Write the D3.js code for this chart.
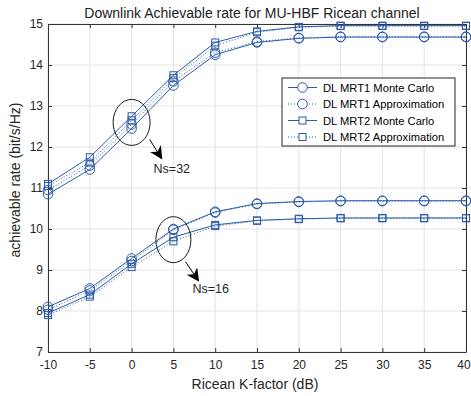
<!DOCTYPE html>
<html><head><meta charset="utf-8">
<script src="https://cdn.jsdelivr.net/npm/d3@7"></script>
<style>body{margin:0;background:#fff}svg{font-family:"Liberation Sans",Arial,sans-serif}</style>
</head><body><svg id="c" width="471" height="396"></svg>
<script>
const kFactor = [-10,-5,0,5,10,15,20,25,30,35,40];
// Ns = 32
const mrt1MC32  = [10.85,11.45,12.45,13.50,14.25,14.55,14.65,14.68,14.68,14.68,14.68];
const mrt1Ap32  = [10.95,11.55,12.55,13.60,14.30,14.57,14.66,14.69,14.69,14.69,14.69];
const mrt2MC32  = [11.10,11.75,12.75,13.75,14.55,14.82,14.93,14.96,14.96,14.96,14.96];
const mrt2Ap32  = [11.05,11.62,12.65,13.68,14.47,14.80,14.92,14.95,14.95,14.95,14.95];
// Ns = 16
const mrt1MC16  = [8.10,8.55,9.28,10.00,10.42,10.62,10.67,10.69,10.69,10.69,10.69];
const mrt1Ap16  = [8.03,8.50,9.22,9.98,10.40,10.61,10.66,10.68,10.68,10.68,10.68];
const mrt2MC16  = [7.95,8.40,9.15,9.80,10.10,10.21,10.25,10.27,10.27,10.27,10.27];
const mrt2Ap16  = [7.90,8.35,9.07,9.70,10.07,10.20,10.24,10.26,10.26,10.26,10.26];
const xTicks = [-10,-5,0,5,10,15,20,25,30,35,40];
const yTicks = [7,8,9,10,11,12,13,14,15];
const legendLabels = ["DL MRT1 Monte Carlo","DL MRT1 Approximation","DL MRT2 Monte Carlo","DL MRT2 Approximation"];

const series = [
  {v:mrt1MC32, m:"o", d:false},{v:mrt1Ap32, m:"o", d:true},
  {v:mrt2MC32, m:"s", d:false},{v:mrt2Ap32, m:"s", d:true},
  {v:mrt1MC16, m:"o", d:false},{v:mrt1Ap16, m:"o", d:true},
  {v:mrt2MC16, m:"s", d:false},{v:mrt2Ap16, m:"s", d:true}
];
const col = "#2a5ba8";
const svg = d3.select("#c");
const L=48, R=466, T=24, B=352;
const x = d3.scaleLinear().domain([-10,40]).range([L,R]);
const y = d3.scaleLinear().domain([7,15]).range([B,T]);

// grid
svg.append("g").selectAll("line").data(xTicks).join("line")
  .attr("x1",d=>x(d)).attr("x2",d=>x(d)).attr("y1",T).attr("y2",B)
  .attr("stroke","#e3e3e3").attr("stroke-width",1);
svg.append("g").selectAll("line").data(yTicks).join("line")
  .attr("y1",d=>y(d)).attr("y2",d=>y(d)).attr("x1",L).attr("x2",R)
  .attr("stroke","#e3e3e3").attr("stroke-width",1);

// axes
const axCol="#333";
const fmt = d=>String(d);
const gx = svg.append("g").attr("transform",`translate(0,${B})`)
  .call(d3.axisBottom(x).tickValues(xTicks).tickSizeInner(-4).tickSizeOuter(0).tickPadding(8).tickFormat(fmt));
const gxt = svg.append("g").attr("transform",`translate(0,${T})`)
  .call(d3.axisTop(x).tickValues(xTicks).tickSizeInner(-4).tickSizeOuter(0).tickFormat(""));
const gy = svg.append("g").attr("transform",`translate(${L},0)`)
  .call(d3.axisLeft(y).tickValues(yTicks).tickSizeInner(-4).tickSizeOuter(0).tickPadding(5).tickFormat(fmt));
const gyr = svg.append("g").attr("transform",`translate(${R},0)`)
  .call(d3.axisRight(y).tickValues(yTicks).tickSizeInner(-4).tickSizeOuter(0).tickFormat(""));
[gx,gxt,gy,gyr].forEach(g=>{
  g.select(".domain").attr("stroke",axCol);
  g.selectAll(".tick line").attr("stroke",axCol);
  g.selectAll("text").attr("fill","#262626").style("font-size","12px").style("font-family","'Liberation Sans',Arial,sans-serif");
});
// keep last x tick label inside the canvas
gx.selectAll(".tick text").filter(d=>d===40).attr("dx",-2.5);

// lines
const line = d3.line().x((d,i)=>x(kFactor[i])).y(d=>y(d));
series.forEach(s=>{
  svg.append("path").datum(s.v).attr("d",line).attr("fill","none")
    .attr("stroke",col).attr("stroke-width",1)
    .attr("stroke-dasharray", s.d ? "1,2" : null);
  const g = svg.append("g");
  if (s.m==="o") {
    g.selectAll("circle").data(s.v).join("circle")
      .attr("cx",(d,i)=>x(kFactor[i])).attr("cy",d=>y(d)).attr("r",4.8)
      .attr("fill","none").attr("stroke",col).attr("stroke-width",1);
  } else {
    g.selectAll("rect").data(s.v).join("rect")
      .attr("x",(d,i)=>x(kFactor[i])-3.5).attr("y",d=>y(d)-3.5).attr("width",7).attr("height",7)
      .attr("fill","none").attr("stroke",col).attr("stroke-width",1);
  }
});

// annotations: ellipses + arrows
svg.append("defs").append("marker").attr("id","ah").attr("viewBox","0 0 10 10")
  .attr("refX",9).attr("refY",5).attr("markerWidth",13).attr("markerHeight",13)
  .attr("markerUnits","userSpaceOnUse").attr("orient","auto")
  .append("path").attr("d","M0,0 L10,5 L0,10 L3,5 Z").attr("fill","#000");
const ann = [
  {cx:x(0), cy:y(12.6), rx:18.5, ry:23, ax1:x(0)+18, ay1:y(12.6)+17, ax2:x(0)+30, ay2:y(12.6)+36, tx:x(0)+22, ty:y(12.6)+51, t:"Ns=32"},
  {cx:x(5), cy:y(9.74), rx:17.5, ry:23, ax1:x(5)+12, ay1:y(9.74)+22, ax2:x(5)+25, ay2:y(9.74)+41, tx:x(5)+19, ty:y(9.74)+53, t:"Ns=16"}
];
ann.forEach(a=>{
  svg.append("ellipse").attr("cx",a.cx).attr("cy",a.cy).attr("rx",a.rx).attr("ry",a.ry)
    .attr("fill","none").attr("stroke","#1a1a1a").attr("stroke-width",1);
  svg.append("line").attr("x1",a.ax1).attr("y1",a.ay1).attr("x2",a.ax2).attr("y2",a.ay2)
    .attr("stroke","#000").attr("stroke-width",1).attr("marker-end","url(#ah)");
  svg.append("text").attr("x",a.tx).attr("y",a.ty).text(a.t)
    .attr("fill","#262626").style("font-size","12.5px");
});

// legend
const lg = svg.append("g").attr("transform","translate(282,78)");
lg.append("rect").attr("width",173).attr("height",68).attr("fill","#fff").attr("stroke","#262626").attr("stroke-width",1);
legendLabels.forEach((lab,i)=>{
  const s = series[i], yy = 9.5 + i*16.5;
  lg.append("line").attr("x1",6).attr("x2",35).attr("y1",yy).attr("y2",yy)
    .attr("stroke",col).attr("stroke-width",1).attr("stroke-dasharray", s.d?"1,2":null);
  if (s.m==="o") lg.append("circle").attr("cx",20.5).attr("cy",yy).attr("r",4.8).attr("fill","#fff").attr("stroke",col);
  else lg.append("rect").attr("x",17).attr("y",yy-3.5).attr("width",7).attr("height",7).attr("fill","#fff").attr("stroke",col);
  lg.append("text").attr("x",41).attr("y",yy+4).text(lab).attr("fill","#000").style("font-size","11.2px");
});

// title and labels
svg.append("text").attr("x",252).attr("y",18).attr("text-anchor","middle")
  .text("Downlink Achievable rate for MU-HBF Ricean channel").attr("fill","#222").style("font-size","14px");
svg.append("text").attr("x",255).attr("y",389).attr("text-anchor","middle")
  .text("Ricean K-factor (dB)").attr("fill","#262626").style("font-size","14px");
svg.append("text").attr("transform",`translate(20,${(T+B)/2-8}) rotate(-90)`).attr("text-anchor","middle")
  .text("achievable rate (bit/s/Hz)").attr("fill","#262626").style("font-size","14px");
</script></body></html>
